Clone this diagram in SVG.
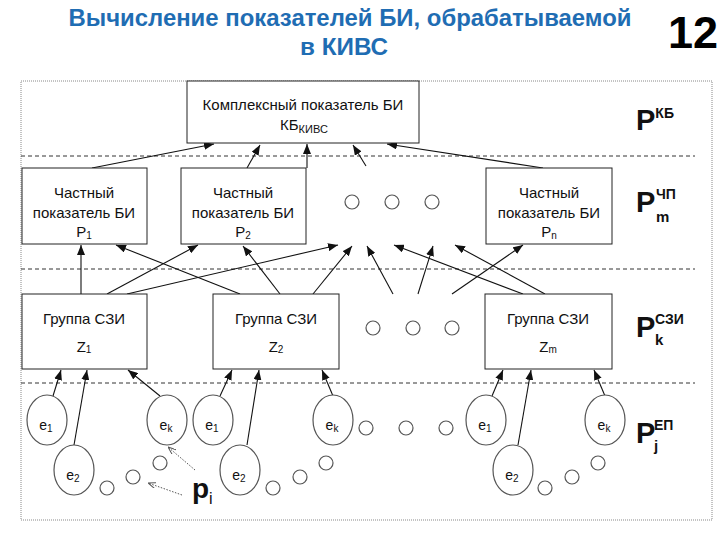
<svg xmlns="http://www.w3.org/2000/svg" width="720" height="540" viewBox="0 0 720 540">
<style>
.t{font-family:"Liberation Sans",Arial,sans-serif;fill:#111}
.bt{font-size:15px;text-anchor:middle}
.et{font-size:14px;text-anchor:middle}
.box{fill:#fff;stroke:#222;stroke-width:1}
.ell{fill:#fff;stroke:#555;stroke-width:1.2}
.dot{fill:#fff;stroke:#555;stroke-width:1.2}
.dash{stroke:#333;stroke-width:1;stroke-dasharray:4 3;fill:none}
.c line{stroke:#111;stroke-width:1.1;marker-end:url(#ah)}
.lay{font-weight:bold}
</style>
<defs>
<marker id="ah" markerUnits="userSpaceOnUse" markerWidth="10" markerHeight="8" refX="10" refY="4" orient="auto">
<path d="M0,0 L10,4 L0,8 z" fill="#111"/>
</marker>
<marker id="ahd" markerUnits="userSpaceOnUse" markerWidth="8" markerHeight="6" refX="8" refY="3" orient="auto">
<path d="M0,0 L8,3 L0,6" fill="none" stroke="#555" stroke-width="1"/>
</marker>
</defs>
<rect width="720" height="540" fill="#fff"/>

<g id="title" class="t" font-weight="bold">
<text x="350" y="26" font-size="23" text-anchor="middle" textLength="563" lengthAdjust="spacingAndGlyphs" style="fill:#1f6db3">Вычисление показателей БИ, обрабатываемой</text>
<text x="344" y="55" font-size="23" text-anchor="middle" textLength="88" lengthAdjust="spacingAndGlyphs" style="fill:#1f6db3">в КИВС</text>
</g>
<text id="pagenum" class="t" x="718" y="48" font-size="45" font-weight="bold" text-anchor="end" style="fill:#000">12</text>

<rect id="frame" x="21" y="81" width="691" height="439" fill="none" stroke="#888" stroke-width="1" stroke-dasharray="1 1"/>
<g id="layers">
<line class="dash" x1="21" y1="156" x2="695" y2="156"/>
<line class="dash" x1="21" y1="269" x2="695" y2="269"/>
<line class="dash" x1="21" y1="383" x2="695" y2="383"/>
</g>

<g id="connectors" class="c">
<line x1="92" y1="168" x2="214" y2="144"/>
<line x1="247" y1="168" x2="260" y2="145"/>
<line x1="307" y1="168" x2="307" y2="144"/>
<line x1="366" y1="166" x2="353" y2="145"/>
<line x1="543" y1="168" x2="387" y2="144"/>

<line x1="81" y1="294" x2="81" y2="245"/>
<line x1="107" y1="294" x2="198" y2="245"/>
<line x1="127" y1="294" x2="338" y2="245"/>
<line x1="240" y1="294" x2="116" y2="245"/>
<line x1="280" y1="294" x2="243" y2="246"/>
<line x1="313" y1="294" x2="352" y2="246"/>
<line x1="393" y1="294" x2="367" y2="246"/>
<line x1="418" y1="294" x2="433" y2="246"/>
<line x1="452" y1="294" x2="523" y2="245"/>
<line x1="523" y1="294" x2="394" y2="245"/>
<line x1="545" y1="294" x2="455" y2="245"/>

<line x1="53" y1="396" x2="61" y2="370"/>
<line x1="74" y1="445" x2="87" y2="370"/>
<line x1="160" y1="396" x2="128" y2="370"/>
<line x1="220" y1="396" x2="232" y2="370"/>
<line x1="247" y1="445" x2="259" y2="370"/>
<line x1="333" y1="396" x2="322" y2="370"/>
<line x1="492" y1="396" x2="503" y2="370"/>
<line x1="518" y1="445" x2="531" y2="370"/>
<line x1="605" y1="396" x2="594" y2="370"/>
</g>

<g id="kb" class="t">
<rect class="box" x="187" y="81" width="232" height="62"/>
<text class="bt" x="303" y="110">Комплексный показатель БИ</text>
<text x="280" y="130" font-size="15">КБ<tspan font-size="11" dy="3">КИВС</tspan></text>
</g>

<g id="p1" class="t">
<rect class="box" x="22" y="168" width="125" height="76"/>
<text class="bt" x="84" y="198">Частный</text>
<text class="bt" x="84" y="218">показатель БИ</text>
<text class="bt" x="84" y="237">P<tspan font-size="10" dy="2">1</tspan></text>
</g>
<g id="p2" class="t">
<rect class="box" x="181" y="168" width="125" height="76"/>
<text class="bt" x="243" y="198">Частный</text>
<text class="bt" x="243" y="218">показатель БИ</text>
<text class="bt" x="243" y="237">P<tspan font-size="10" dy="2">2</tspan></text>
</g>
<g id="pn" class="t">
<rect class="box" x="486" y="168" width="126" height="76"/>
<text class="bt" x="549" y="198">Частный</text>
<text class="bt" x="549" y="218">показатель БИ</text>
<text class="bt" x="549" y="237">P<tspan font-size="10" dy="2">n</tspan></text>
</g>
<g id="dots-p">
<circle class="dot" cx="352" cy="202" r="7"/>
<circle class="dot" cx="392" cy="202" r="7"/>
<circle class="dot" cx="432" cy="202" r="7"/>
</g>

<g id="z1" class="t">
<rect class="box" x="22" y="294" width="125" height="75"/>
<text class="bt" x="84" y="324">Группа СЗИ</text>
<text class="bt" x="84" y="352">Z<tspan font-size="10" dy="1">1</tspan></text>
</g>
<g id="z2" class="t">
<rect class="box" x="213" y="294" width="126" height="75"/>
<text class="bt" x="276" y="324">Группа СЗИ</text>
<text class="bt" x="276" y="352">Z<tspan font-size="10" dy="1">2</tspan></text>
</g>
<g id="zm" class="t">
<rect class="box" x="485" y="294" width="127" height="75"/>
<text class="bt" x="548" y="324">Группа СЗИ</text>
<text class="bt" x="548" y="352">Z<tspan font-size="10" dy="1">m</tspan></text>
</g>
<g id="dots-z">
<circle class="dot" cx="373" cy="328" r="7"/>
<circle class="dot" cx="413" cy="328" r="7"/>
<circle class="dot" cx="452" cy="328" r="7"/>
</g>

<g id="g1" class="t">
<ellipse class="ell" cx="47" cy="420" rx="20" ry="25"/>
<text class="et" x="46" y="430">e<tspan font-size="10" dy="2">1</tspan></text>
<ellipse class="ell" cx="74" cy="470" rx="20" ry="25"/>
<text class="et" x="73" y="480">e<tspan font-size="10" dy="2">2</tspan></text>
<ellipse class="ell" cx="167" cy="420" rx="20" ry="25"/>
<text class="et" x="166" y="430">e<tspan font-size="10" dy="2">k</tspan></text>
<circle class="dot" cx="107" cy="488" r="7"/>
<circle class="dot" cx="133" cy="477" r="7"/>
<circle class="dot" cx="160" cy="463" r="7"/>
</g>
<g id="g2" class="t">
<ellipse class="ell" cx="213" cy="420" rx="20" ry="25"/>
<text class="et" x="212" y="430">e<tspan font-size="10" dy="2">1</tspan></text>
<ellipse class="ell" cx="240" cy="470" rx="20" ry="25"/>
<text class="et" x="239" y="480">e<tspan font-size="10" dy="2">2</tspan></text>
<ellipse class="ell" cx="333" cy="420" rx="20" ry="25"/>
<text class="et" x="332" y="430">e<tspan font-size="10" dy="2">k</tspan></text>
<circle class="dot" cx="273" cy="488" r="7"/>
<circle class="dot" cx="300" cy="477" r="7"/>
<circle class="dot" cx="326" cy="463" r="7"/>
</g>
<g id="dots-e">
<circle class="dot" cx="366" cy="428" r="7"/>
<circle class="dot" cx="406" cy="428" r="7"/>
<circle class="dot" cx="446" cy="428" r="7"/>
</g>
<g id="g3" class="t">
<ellipse class="ell" cx="486" cy="420" rx="20" ry="25"/>
<text class="et" x="485" y="430">e<tspan font-size="10" dy="2">1</tspan></text>
<ellipse class="ell" cx="513" cy="470" rx="20" ry="25"/>
<text class="et" x="512" y="480">e<tspan font-size="10" dy="2">2</tspan></text>
<ellipse class="ell" cx="605" cy="420" rx="20" ry="25"/>
<text class="et" x="604" y="430">e<tspan font-size="10" dy="2">k</tspan></text>
<circle class="dot" cx="545" cy="488" r="7"/>
<circle class="dot" cx="572" cy="477" r="7"/>
<circle class="dot" cx="598" cy="463" r="7"/>
</g>

<g id="pi" class="t">
<line x1="195" y1="470" x2="168" y2="447" stroke="#555" stroke-width="1" stroke-dasharray="1.5 1.5" marker-end="url(#ahd)"/>
<line x1="182" y1="495" x2="148" y2="483" stroke="#555" stroke-width="1" stroke-dasharray="1.5 1.5" marker-end="url(#ahd)"/>
<text x="192" y="498" font-size="28" font-weight="bold">p<tspan font-size="16" font-weight="normal" dy="6">i</tspan></text>
</g>

<g id="labels" class="t lay">
<text x="636" y="130" font-size="29">P<tspan font-size="14" dy="-12">КБ</tspan></text>
<text x="636" y="212" font-size="29">P</text>
<text x="656" y="199" font-size="14">ЧП</text>
<text x="656" y="222" font-size="15">m</text>
<text x="636" y="337" font-size="29">P</text>
<text x="655" y="324" font-size="14">СЗИ</text>
<text x="655" y="345" font-size="15">k</text>
<text x="636" y="443" font-size="29">P</text>
<text x="654" y="430" font-size="14">ЕП</text>
<text x="654" y="451" font-size="15">j</text>
</g>
</svg>
